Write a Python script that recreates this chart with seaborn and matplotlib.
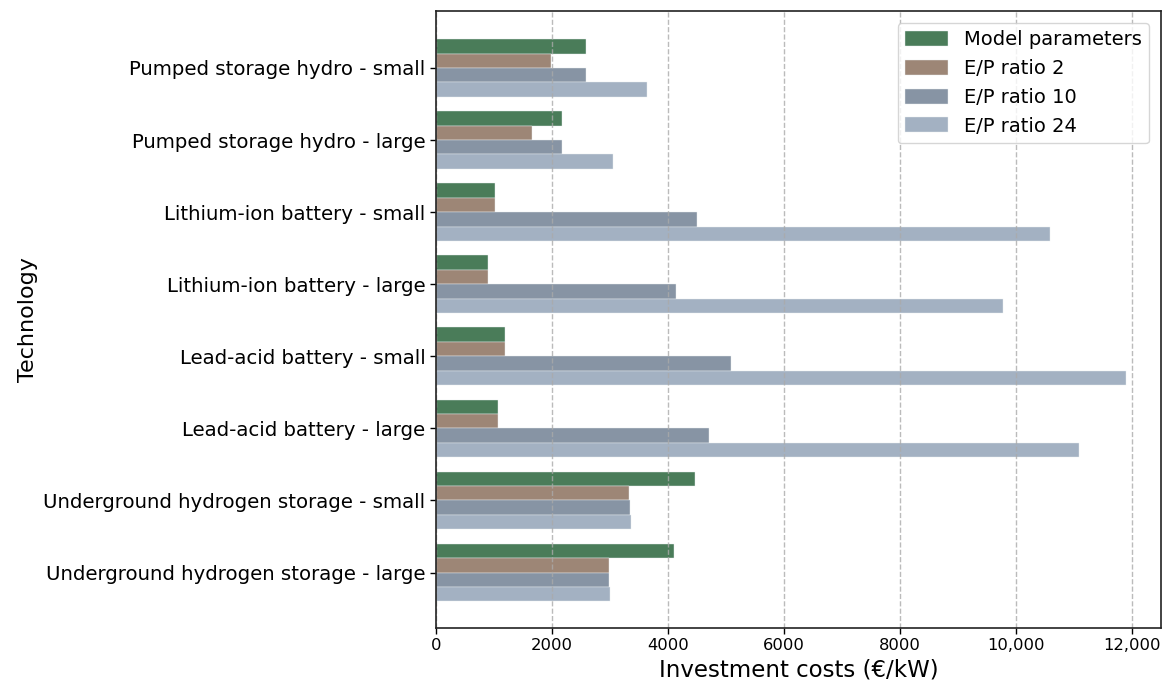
import matplotlib
matplotlib.use("Agg")
import matplotlib.pyplot as plt
from matplotlib.ticker import FuncFormatter, MultipleLocator
import seaborn as sns
import pandas as pd

technologies = [
    "Pumped storage hydro - small",
    "Pumped storage hydro - large",
    "Lithium-ion battery - small",
    "Lithium-ion battery - large",
    "Lead-acid battery - small",
    "Lead-acid battery - large",
    "Underground hydrogen storage - small",
    "Underground hydrogen storage - large",
]
series_names = ["Model parameters", "E/P ratio 2", "E/P ratio 10", "E/P ratio 24"]

model_parameters = [2580, 2170, 1020, 900, 1190, 1070, 4460, 4110]
ep_ratio_2 = [1990, 1660, 1020, 900, 1190, 1070, 3335, 2985]
ep_ratio_10 = [2580, 2170, 4500, 4130, 5090, 4710, 3340, 2990]
ep_ratio_24 = [3630, 3050, 10580, 9770, 11900, 11090, 3355, 3005]

colors = ["#4a7c59", "#9d8676", "#8794a4", "#a3b1c2"]

rows = []
for name, values in zip(series_names,
                        [model_parameters, ep_ratio_2, ep_ratio_10, ep_ratio_24]):
    for tech, v in zip(technologies, values):
        rows.append({"Technology": tech, "Series": name, "Cost": v})
df = pd.DataFrame(rows)

sns.set_style("white")
plt.rcParams["font.family"] = ["DejaVu Sans"]
plt.rcParams["text.color"] = "black"
plt.rcParams["axes.labelcolor"] = "black"
plt.rcParams["xtick.color"] = "black"
plt.rcParams["ytick.color"] = "black"

fig = plt.figure(figsize=(11.62, 6.88), dpi=100)
ax = fig.add_axes([0.3752, 0.0872, 0.6239, 0.8968])

sns.barplot(data=df, y="Technology", x="Cost", hue="Series",
            order=technologies, hue_order=series_names,
            palette=colors, orient="h", ax=ax, width=0.8,
            edgecolor="#e8ecef", linewidth=0.3, saturation=1)

ax.set_xlim(0, 12500)
ax.set_ylim(7.77, -0.79)
ax.xaxis.set_major_locator(MultipleLocator(2000))
ax.xaxis.set_major_formatter(
    FuncFormatter(lambda v, p: f"{int(v):,}" if v >= 10000 else f"{int(v)}"))
ax.grid(axis="x", linestyle="--", color="#aaaaaa", alpha=0.8, linewidth=1)
ax.grid(axis="y", visible=False)
ax.set_axisbelow(False)
for tick in ax.xaxis.get_major_ticks():
    if abs(tick.get_loc()) < 1e-9:
        tick.gridline.set_visible(False)

for s in ax.spines.values():
    s.set_visible(True)
    s.set_color("#222222")
    s.set_linewidth(1.2)
    s.set_zorder(5)

ax.tick_params(axis="y", labelsize=14.2, length=4, width=1, left=True)
ax.tick_params(axis="x", labelsize=11.8, length=4, width=1, bottom=True)
ax.set_xlabel("Investment costs (€/kW)", fontsize=16.5)
ax.set_ylabel("Technology", fontsize=16)

ax.legend(loc="upper right", fontsize=14, frameon=True, title=None,
          borderaxespad=0.6, handlelength=2.2, handleheight=0.8)

fig.savefig("out.png", dpi=100)
